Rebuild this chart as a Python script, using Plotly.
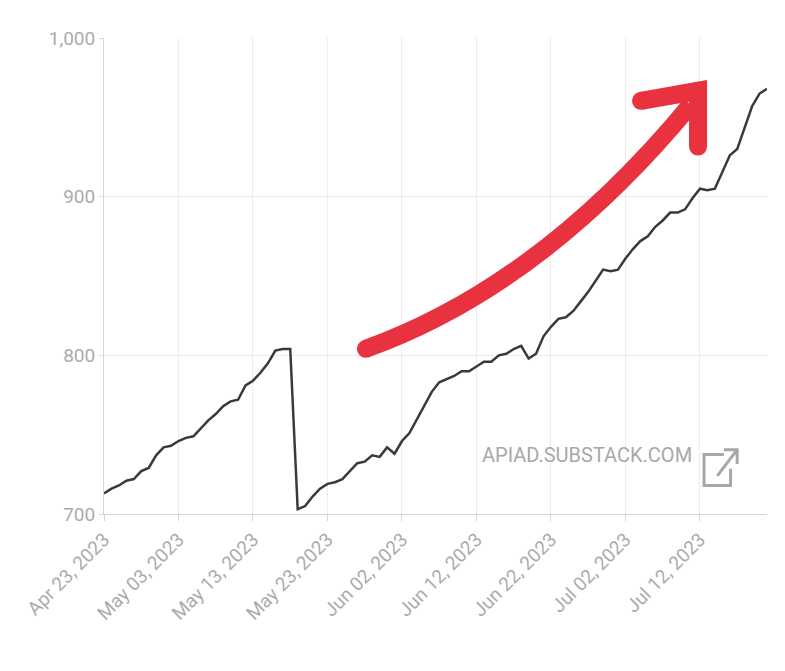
import plotly.graph_objects as go
import pandas as pd

start_date = "2023-04-23"
values = [713,716,718,721,722,727,729,737,742,743,746,748,749,754,759,763,768,771,772,781,
          784,789,795,803,804,804,703,705,711,716,719,720,722,727,732,733,737,736,742,738,
          746,751,760,769,777,783,785,787,790,790,793,796,796,800,801,804,806,798,801,812,
          818,823,824,828,834,840,847,854,853,854,861,867,872,875,881,885,890,890,892,899,
          905,904,905,916,926,930,943,957,965,968]
dates = pd.date_range(start_date, periods=len(values), freq="D")
tick_dates = pd.date_range(start_date, periods=9, freq="10D")
tick_labels = [d.strftime("%b %d, %Y") for d in tick_dates]

fig = go.Figure(go.Scatter(x=dates, y=values, mode="lines",
                           line=dict(color="#3a3a3a", width=2.5), hoverinfo="skip"))
grey = "#ababab"
fig.update_layout(
    width=785, height=671, plot_bgcolor="white", paper_bgcolor="white",
    margin=dict(l=96, r=26, t=30, b=165, autoexpand=False), showlegend=False,
    font=dict(family="Roboto", color=grey, size=19),
    xaxis=dict(range=[dates[0], dates[-1]], tickvals=tick_dates, ticktext=tick_labels,
               tickangle=-45, showgrid=True, gridcolor="#ececec", showline=True,
               linecolor="#d5d5d5", ticks="outside", ticklen=6, tickcolor="#d5d5d5",
               automargin=False),
    yaxis=dict(range=[700, 1000], tickvals=[700, 800, 900, 1000],
               ticktext=["700", "800", "900", "1,000"], showgrid=True,
               gridcolor="#ececec", zeroline=False, ticks="outside", ticklen=4,
               tickcolor="#d5d5d5", showline=True, linecolor="#d5d5d5",
               automargin=False),
)
red = "#e8323f"
fig.add_shape(type="path", xref="paper", yref="paper",
              path="M 0.395 0.347 Q 0.66 0.48 0.885 0.86",
              line=dict(color=red, width=18))
for cx, cy in [(0.395, 0.347), (0.81, 0.868), (0.896, 0.772), (0.896, 0.889)]:
    fig.add_shape(type="circle", xref="paper", yref="paper", xsizemode="pixel",
                  ysizemode="pixel", xanchor=cx, yanchor=cy, x0=-9, x1=9, y0=-9, y1=9,
                  fillcolor=red, line=dict(width=0))
fig.add_shape(type="path", xref="paper", yref="paper",
              path="M 0.81 0.868 L 0.896 0.889 L 0.896 0.772",
              line=dict(color=red, width=18))
fig.add_annotation(xref="paper", yref="paper", x=0.89, y=0.095, xanchor="right",
                   text="APIAD.SUBSTACK.COM", showarrow=False,
                   font=dict(size=20, color="#a8a8a8", family="Roboto"))
fig.add_shape(type="path", xref="paper", yref="paper",
              path="M 0.935 0.125 L 0.905 0.125 L 0.905 0.06 L 0.945 0.06 L 0.945 0.095",
              line=dict(color="#a8a8a8", width=3))
fig.add_shape(type="path", xref="paper", yref="paper",
              path="M 0.925 0.08 L 0.955 0.135 M 0.935 0.135 L 0.955 0.135 L 0.955 0.105",
              line=dict(color="#a8a8a8", width=3))
fig.write_html("out.html")
